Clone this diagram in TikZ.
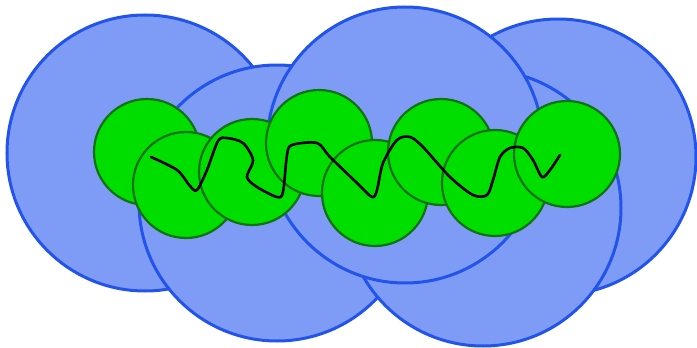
\documentclass[tikz,border=0pt]{standalone}
\usepackage{xcolor}
\usepackage{tikz}
\usetikzlibrary{calc}

\definecolor{blobfill}{RGB}{126,156,246}
\definecolor{blobline}{RGB}{34,84,236}
\definecolor{beadfill}{RGB}{0,222,0}
\definecolor{beadline}{RGB}{20,112,20}

\tikzset{
	blob/.style={fill=blobfill, draw=blobline, line width=3pt},
	bead/.style={fill=beadfill, draw=beadline, line width=2.2pt},
	chain/.style={black, line width=2.6pt, line cap=round, line join=round}
}

\begin{document}
\begin{tikzpicture}[x=1pt,y=-1pt]
		\useasboundingbox (0,0) rectangle (697,348);

		% large blobs
		\foreach \cx/\cy in {145/153, 558/157, 277/203, 483/208, 405/145}
			\draw[blob] (\cx,\cy) circle (138);

		% beads along the chain
		\foreach \cx/\cy in {147/152, 186/185, 252/172, 319/143, 375/193, 441/152, 495/183, 567/154}
			\draw[bead] (\cx,\cy) circle (53);

		% the chain itself
		\draw[chain] plot[smooth, tension=0.5] coordinates {
			(151,157) (177,170) (190,186) (197,190) (207,170) (218,141)
			(227,138) (243,143) (253,160) (247,177) (257,187) (277,197)
			(283,192) (287,155) (292,145) (317,143) (330,157) (357,183)
			(372,197) (377,190) (383,163) (397,140) (410,137) (423,147)
			(450,177) (473,195) (487,195) (493,180) (500,157) (510,148)
			(523,148) (533,160) (542,177) (550,170) (560,155)};
	\end{tikzpicture}
\end{document}
